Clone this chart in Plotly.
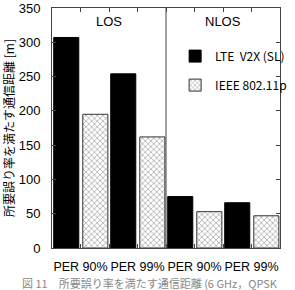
import plotly.graph_objects as go

categories = ["PER 90%", "PER 99%", "PER 90%", "PER 99%"]
x_pos = [0.5, 1.5, 2.5, 3.5]
lte_values = [307, 254, 75, 66]
ieee_values = [195, 162, 53, 47]
series_names = ["LTE  V2X (SL)", "IEEE 802.11p"]
region_labels = ["LOS", "NLOS"]
region_pos = [1, 3]
y_ticks = [0, 50, 100, 150, 200, 250, 300, 350]

fig = go.Figure()
fig.add_trace(go.Bar(
    x=x_pos, y=lte_values, name=series_names[0], legendgroup="a",
    offset=-0.47, width=0.44,
    marker=dict(color="black", line=dict(color="black", width=1)),
))
fig.add_trace(go.Bar(
    x=x_pos, y=ieee_values, name=series_names[1], legendgroup="b",
    offset=0.04, width=0.44,
    marker=dict(color="white", line=dict(color="#333", width=1),
                pattern=dict(shape="x", size=4, solidity=0.35,
                             fgcolor="#555", bgcolor="white")),
))

fig.add_shape(type="line", x0=2, x1=2, y0=0, y1=350, xref="x", yref="y",
              line=dict(color="#444", width=1))

for lab, xp in zip(region_labels, region_pos):
    fig.add_annotation(x=xp, y=330, xref="x", yref="y", text=lab, showarrow=False,
                       font=dict(family="Liberation Sans, Arial", size=13, color="black"))

fig.add_annotation(x=(18 - 52) / 240, y=-(273 - 248) / 240, xref="paper", yref="paper",
                   xanchor="left", yanchor="top",
                   text="図 11　所要誤り率を満たす通信距離 (6 GHz，QPSK",
                   showarrow=False,
                   font=dict(family="Noto Sans CJK JP", size=11, color="#888"))

fig.update_layout(
    width=295, height=290,
    margin=dict(l=52, r=3, t=8, b=42),
    paper_bgcolor="white", plot_bgcolor="white",
    barmode="overlay",
    showlegend=True,
    legend=dict(x=0.54, y=0.86, xanchor="left", yanchor="top",
                bgcolor="rgba(0,0,0,0)", traceorder="grouped", tracegroupgap=10,
                font=dict(family="Noto Sans CJK JP", size=12, color="black")),
    xaxis=dict(range=[0, 4], tickmode="array",
               tickvals=[0.5, 1, 1.5, 2, 2.5, 3, 3.5],
               ticktext=[categories[0], "", categories[1], "", categories[2], "", categories[3]],
               ticks="inside", ticklen=4, tickcolor="#444", mirror="ticks",
               tickangle=0, ticklabelstandoff=7, automargin=False,
               showline=True, linecolor="#444", linewidth=1, showgrid=False, zeroline=False,
               tickfont=dict(family="Liberation Sans, Arial", size=12.5, color="black")),
    yaxis=dict(range=[0, 350], tickvals=y_ticks,
               ticks="inside", ticklen=4, tickcolor="#444", mirror="ticks",
               ticklabelstandoff=8, automargin=False,
               title=dict(text="所要誤り率を満たす通信距離 [m]", standoff=4,
                          font=dict(family="Noto Sans CJK JP", size=12, color="black")),
               showline=True, linecolor="#444", linewidth=1, showgrid=False, zeroline=False,
               tickfont=dict(family="Liberation Sans, Arial", size=13, color="black")),
)

fig.write_html("out.html")
